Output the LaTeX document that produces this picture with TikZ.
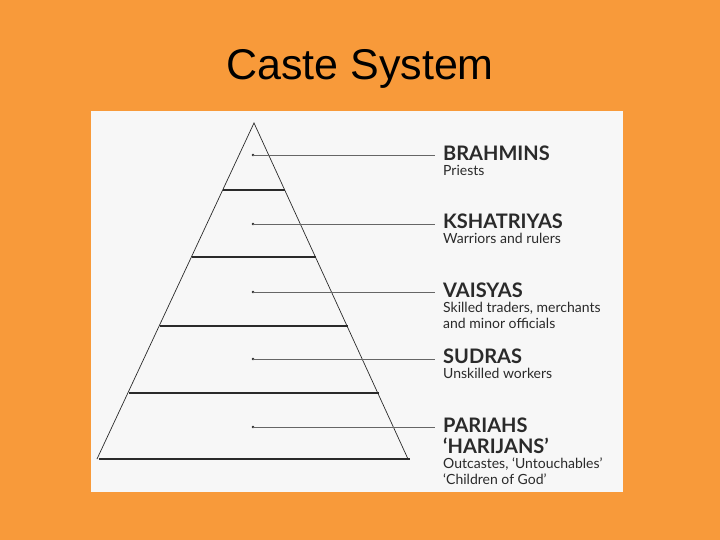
\documentclass[tikz,border=0pt]{standalone}
\usepackage{fontspec}
\setmainfont{Liberation Sans}
\newfontfamily\gill{Lato}
\definecolor{bgor}{HTML}{F89A3A}
\definecolor{panel}{HTML}{F7F7F7}
\definecolor{ink}{HTML}{2A2A2A}
\begin{document}
\begin{tikzpicture}[x=1pt,y=-1pt,
  tier/.style={draw=ink,line width=1.6pt},
  lead/.style={draw=gray!80!black,line width=0.8pt},
  head/.style={anchor=north west,inner sep=0pt,font=\gill\bfseries\fontsize{20}{22}\selectfont,text=ink},
  sub/.style={anchor=north west,inner sep=0pt,align=left,font=\gill\fontsize{14}{16}\selectfont,text=ink}]
\fill[bgor] (0,0) rectangle (720,540);
\useasboundingbox (0,0) rectangle (720,540);
\node (title) at (360,69) {\fontsize{43}{48}\selectfont Caste System};
\fill[panel] (91,111) rectangle (623,492);
\coordinate (apex) at (254,123);
\coordinate (bl) at (97,459);
\coordinate (br) at (408,459);
\draw[draw=ink,line width=0.7pt] (bl) -- (apex) -- (br);
\foreach \yy/\dd in {190/31,257/62,326/94,393/125,459/155.5}{
  \draw[tier] (254-\dd,\yy) -- (254+\dd,\yy);
}
\foreach \yy/\n in {155/a,224/b,292/c,359/d,427/e}{
  \coordinate (s\n) at (253,\yy);
  \coordinate (t\n) at (435,\yy);
  \fill[ink] (s\n) circle (1.3);
  \draw[lead] (s\n) -- (t\n);
}
\node[head] (h1) at (443,146) {BRAHMINS};
\node[sub] (p1) at (443,165) {Priests};
\node[head] (h2) at (443,214) {KSHATRIYAS};
\node[sub] (p2) at (443,233) {Warriors and rulers};
\node[head] (h3) at (443,283) {VAISYAS};
\node[sub] (p3) at (443,302) {Skilled traders, merchants\\and minor officials};
\node[head] (h4) at (443,349) {SUDRAS};
\node[sub] (p4) at (443,368) {Unskilled workers};
\node[head] (h5) at (443,418) {PARIAHS};
\node[head] (h6) at (443,438) {‘HARIJANS’};
\node[sub] (p5) at (443,458) {Outcastes, ‘Untouchables’\\‘Children of God’};
\end{tikzpicture}
\end{document}
